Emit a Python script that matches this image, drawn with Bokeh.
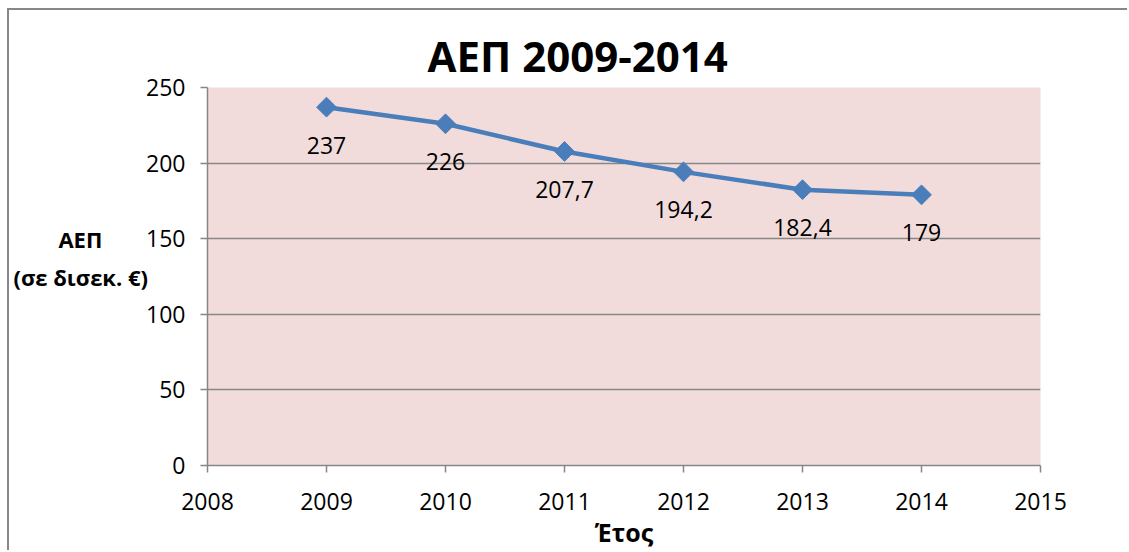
from bokeh.plotting import figure
from bokeh.models import ColumnDataSource, FixedTicker, Range1d, Title
from bokeh.embed import file_html
from bokeh.resources import INLINE
from bokeh.core.properties import value
import math

# ---- data ----
years = [2009, 2010, 2011, 2012, 2013, 2014]
gdp = [237, 226, 207.7, 194.2, 182.4, 179]
gdp_labels = ["237", "226", "207,7", "194,2", "182,4", "179"]
x_ticks = [2008, 2009, 2010, 2011, 2012, 2013, 2014, 2015]
y_ticks = [0, 50, 100, 150, 200, 250]
title_text = "ΑΕΠ 2009-2014"
ylabel_lines = ["ΑΕΠ", "(σε δισεκ. €)"]
xlabel_text = "Έτος"

FONT = "Open Sans"
GRAY = "#868686"
PINK = "#F2DCDB"
BLUE = "#4A7EBB"

src = ColumnDataSource(data=dict(x=years, y=gdp, lbl=gdp_labels))

p = figure(width=1120, height=542, output_backend="svg", toolbar_location=None,
           x_range=Range1d(2008, 2015), y_range=Range1d(0, 250),
           min_border_left=198, min_border_right=89, min_border_top=77,
           min_border_bottom=87, title=None)
p.styles = {"border-left": "2px solid #878787", "border-top": "2px solid #878787",
            "border-right": "none", "border-bottom": "none",
            "margin-left": "7px", "margin-top": "8px"}

p.background_fill_color = PINK
p.border_fill_color = "white"
p.outline_line_color = None

p.xgrid.grid_line_color = None
p.ygrid.grid_line_color = GRAY
p.ygrid.grid_line_width = 1.5
p.ygrid.ticker = FixedTicker(ticks=y_ticks)

p.xaxis.ticker = FixedTicker(ticks=x_ticks)
p.yaxis.ticker = FixedTicker(ticks=y_ticks)
for ax in (p.xaxis, p.yaxis):
    ax.axis_line_color = GRAY
    ax.axis_line_width = 1.5
    ax.major_tick_line_color = GRAY
    ax.major_tick_line_width = 1.5
    ax.major_tick_out = 7
    ax.major_tick_in = 0
    ax.minor_tick_line_color = None
    ax.major_label_text_font = FONT
    ax.major_label_text_font_size = "23px"
    ax.major_label_text_color = "black"
p.yaxis.major_label_standoff = 15
p.xaxis.major_label_standoff = 20

p.xaxis.axis_label = xlabel_text
p.xaxis.axis_label_text_font = FONT
p.xaxis.axis_label_text_font_size = "25px"
p.xaxis.axis_label_text_font_style = "bold"
p.xaxis.axis_label_text_color = "black"
p.xaxis.axis_label_standoff = 2

# first line padded with no-break spaces so that it sits centred over the second
p.yaxis.axis_label = "\n".join([ylabel_lines[0] + "\u00a0" * 8, ylabel_lines[1], " "])
p.yaxis.axis_label_orientation = "horizontal"
p.yaxis.axis_label_text_font = FONT
p.yaxis.axis_label_text_font_size = "22px"
p.yaxis.axis_label_text_font_style = "bold"
p.yaxis.axis_label_text_color = "black"
p.yaxis.axis_label_text_line_height = 1.25
p.yaxis.axis_label_standoff = -5

t = Title(text=title_text, align="left", offset=220, standoff=8,
          text_font=FONT, text_font_size="42px", text_font_style="bold",
          text_color="black")
p.add_layout(t, "above")

p.line("x", "y", source=src, line_color=BLUE, line_width=4.5)
p.scatter("x", "y", source=src, marker="square", size=14, angle=math.pi / 4,
          fill_color=BLUE, line_color=BLUE)
p.text("x", "y", text="lbl", source=src, text_align="center", text_baseline="middle",
       y_offset=38, text_font=value(FONT), text_font_size="23px", text_color="black")

open("out.html", "w").write(file_html(p, INLINE))
